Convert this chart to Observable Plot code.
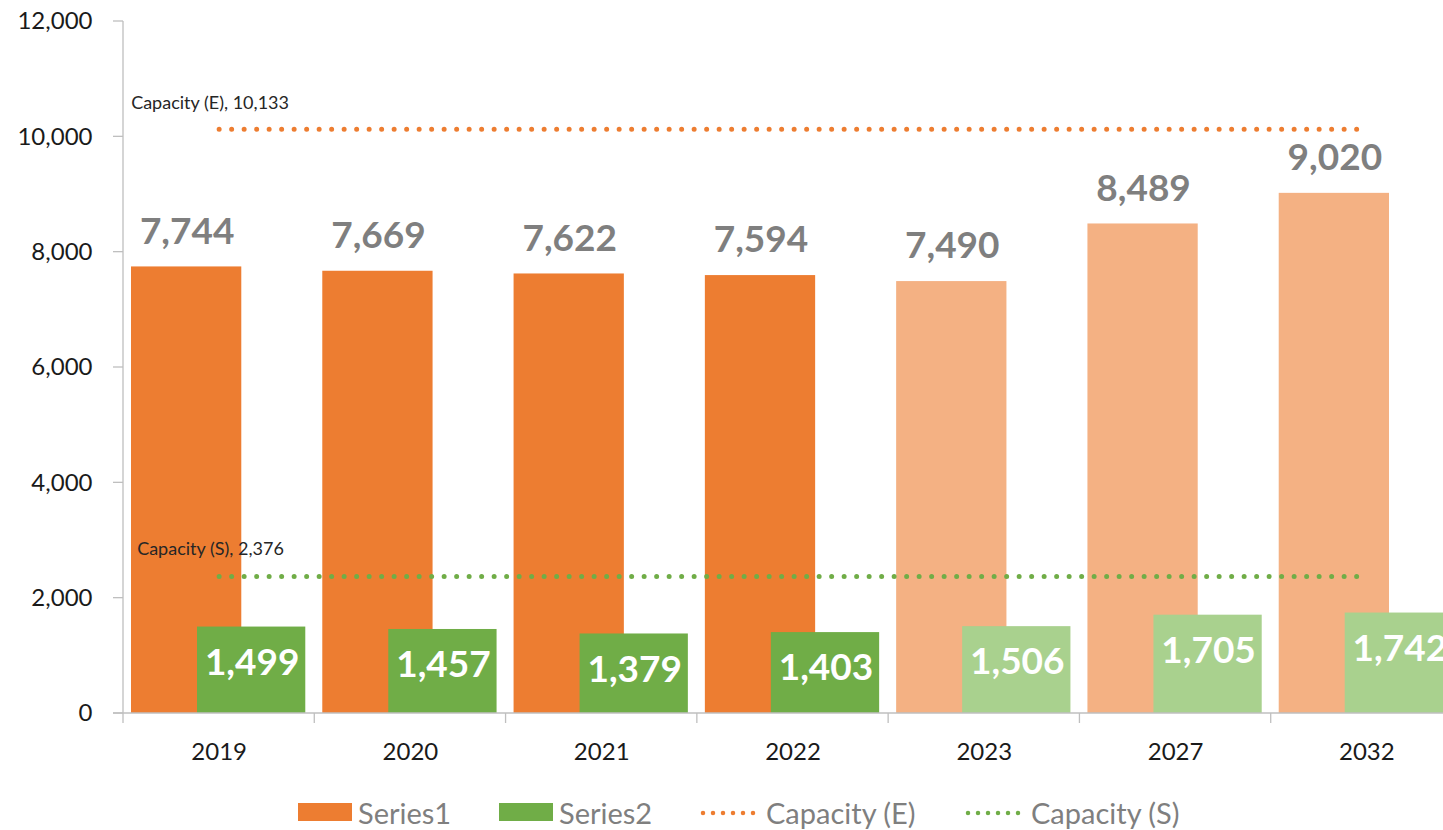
<!DOCTYPE html>
<html>
<head>
<meta charset="utf-8">
<script src="https://cdn.jsdelivr.net/npm/d3@7"></script>
<script src="https://cdn.jsdelivr.net/npm/@observablehq/plot@0.6"></script>
<style>
  html, body { margin: 0; padding: 0; background: #fff; overflow: hidden; }
  #chart svg { display: block; overflow: hidden; }
  .legend { display: flex; align-items: center; margin-left: 298px; margin-top: 20px; height: 34px;
            font-family: Lato, sans-serif; font-size: 29px; color: #7f7f7f; white-space: nowrap; }
  .legend .item { display: flex; align-items: center; }
  .legend .sw { width: 54px; height: 18px; margin-right: 6px; flex: none; }
  .legend svg { margin-right: 10px; flex: none; }
</style>
</head>
<body>
<div id="chart"></div>
<div class="legend" id="legend"></div>
<script>
const categories = ["2019", "2020", "2021", "2022", "2023", "2027", "2032"];
const series1 = [7744, 7669, 7622, 7594, 7490, 8489, 9020];
const series2 = [1499, 1457, 1379, 1403, 1506, 1705, 1742];
const estimatedYears = ["2023", "2027", "2032"];
const capacityE = 10133;
const capacityS = 2376;
const yTicks = [0, 2000, 4000, 6000, 8000, 10000, 12000];

const orange = "#ED7D31", orangeLight = "#F4B183";
const green = "#70AD47", greenLight = "#A9D18E";
const fmt = d3.format(",");

const rows = categories.map((c, i) => ({year: c, s1: series1[i], s2: series2[i], est: estimatedYears.includes(c)}));

function axesMark(index, scales, values, dimensions) {
  const g = d3.create("svg:g");
  const x = scales.x, y = scales.y;
  const bw = typeof x.bandwidth === "function" ? x.bandwidth() : x.bandwidth;
  const y0 = y(0), yTop = y(12000);
  const left = dimensions.marginLeft;
  g.append("line").attr("x1", left).attr("x2", left).attr("y1", yTop).attr("y2", y0)
    .attr("stroke", "#bfbfbf").attr("stroke-width", 1.3);
  for (const t of yTicks) {
    g.append("line").attr("x1", left - 10).attr("x2", left).attr("y1", y(t)).attr("y2", y(t))
      .attr("stroke", "#bfbfbf").attr("stroke-width", 1.3);
  }
  g.append("line").attr("x1", left - 10).attr("x2", dimensions.width).attr("y1", y0).attr("y2", y0)
    .attr("stroke", "#bfbfbf").attr("stroke-width", 1.3);
  const bounds = categories.map(c => x(c)).concat([x(categories[categories.length - 1]) + bw]);
  for (const b of bounds) {
    g.append("line").attr("x1", b).attr("x2", b).attr("y1", y0).attr("y2", y0 + 10)
      .attr("stroke", "#bfbfbf").attr("stroke-width", 1.3);
  }
  return g.node();
}

const chart = Plot.plot({
  width: 1443,
  height: 775,
  marginLeft: 123,
  marginRight: 0,
  marginTop: 21,
  marginBottom: 62,
  x: {type: "band", domain: categories, range: [123, 1462], padding: 0, round: false, axis: null},
  y: {domain: [0, 12000], axis: null},
  style: {fontFamily: "Lato, sans-serif", background: "#fff"},
  marks: [
    Plot.barY(rows, {x: "year", y: "s1", fill: d => d.est ? orangeLight : orange, insetLeft: 8, insetRight: 73}),
    Plot.barY(rows, {x: "year", y: "s2", fill: d => d.est ? greenLight : green, insetLeft: 74, insetRight: 9}),
    axesMark,
    Plot.axisY({ticks: yTicks, tickFormat: d3.format(","), tickSize: 0, tickPadding: 31, fontSize: 24, color: "#1a1a1a", label: null}),
    Plot.axisX({tickSize: 0, tickPadding: 29, fontSize: 24, color: "#1a1a1a", label: null}),
    Plot.lineY(categories, {x: d => d, y: () => capacityS, stroke: green, strokeWidth: 5,
      strokeDasharray: "0 12.5", strokeLinecap: "round"}),
    Plot.lineY(categories, {x: d => d, y: () => capacityE, stroke: orange, strokeWidth: 5,
      strokeDasharray: "0 12.5", strokeLinecap: "round"}),
    Plot.text([capacityE], {x: () => categories[0], y: d => d, text: d => `Capacity (E), ${fmt(d)}`,
      textAnchor: "start", dx: -88, dy: -26, fontSize: 18, fill: "#262626"}),
    Plot.text([capacityS], {x: () => categories[0], y: d => d, text: d => `Capacity (S), ${fmt(d)}`,
      textAnchor: "start", dx: -82, dy: -27, fontSize: 18, fill: "#262626"}),
    Plot.text(rows, {x: "year", y: "s1", text: d => fmt(d.s1), dx: -32, dy: -35,
      fontSize: 37, fontWeight: "bold", fill: "#7f7f7f"}),
    Plot.text(rows, {x: "year", y: "s2", text: d => fmt(d.s2), dx: 33, dy: 36,
      fontSize: 37, fontWeight: "bold", fill: "#ffffff"})
  ]
});
document.getElementById("chart").appendChild(chart);

// legend
const legendItems = [
  {label: "Series1", type: "bar", color: orange, width: 201},
  {label: "Series2", type: "bar", color: green, width: 201},
  {label: "Capacity (E)", type: "dot", color: orange, width: 265},
  {label: "Capacity (S)", type: "dot", color: green, width: null}
];
const legend = document.getElementById("legend");
legendItems.forEach((it) => {
  const item = document.createElement("div");
  item.className = "item";
  if (it.width) item.style.width = it.width + "px";
  if (it.type === "bar") {
    const sw = document.createElement("div");
    sw.className = "sw";
    sw.style.background = it.color;
    item.appendChild(sw);
  } else {
    const ns = "http://www.w3.org/2000/svg";
    const svg = document.createElementNS(ns, "svg");
    svg.setAttribute("width", 56); svg.setAttribute("height", 20);
    const ln = document.createElementNS(ns, "line");
    ln.setAttribute("x1", 3); ln.setAttribute("x2", 54); ln.setAttribute("y1", 11); ln.setAttribute("y2", 11);
    ln.setAttribute("stroke", it.color); ln.setAttribute("stroke-width", 4.5);
    ln.setAttribute("stroke-dasharray", "0 10"); ln.setAttribute("stroke-linecap", "round");
    svg.appendChild(ln);
    item.appendChild(svg);
  }
  const t = document.createElement("span");
  t.textContent = it.label;
  item.appendChild(t);
  legend.appendChild(item);
});
</script>
</body>
</html>
